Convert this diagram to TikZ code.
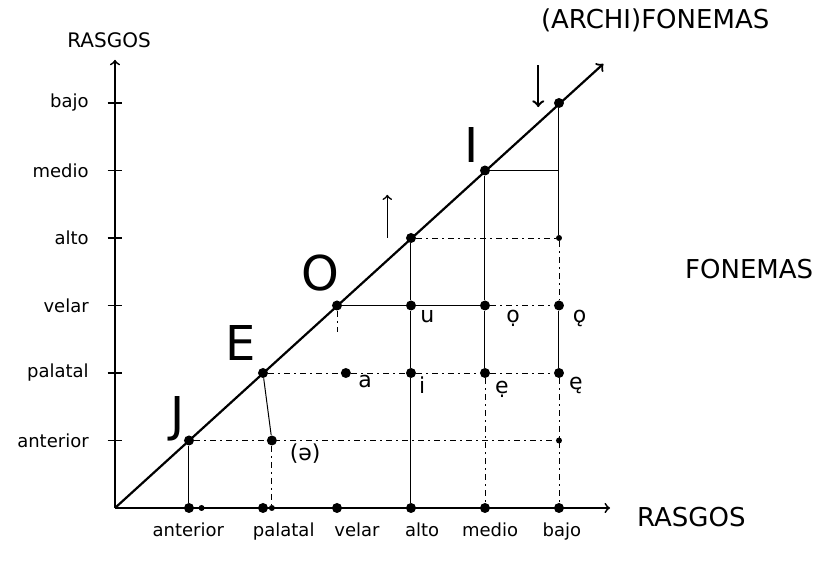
\documentclass[tikz,border=0pt]{standalone}
\usepackage{fontspec}
\setmainfont{DejaVu Sans}
\begin{document}
\begin{tikzpicture}[x=37pt,y=33.75pt,
    every node/.style={font=\fontsize{9}{11}\selectfont},
    pt/.style={circle,fill,inner sep=0pt,minimum size=5pt},
    smallpt/.style={circle,fill,inner sep=0pt,minimum size=3pt},
    guide/.style={line width=0.5pt},
    dguide/.style={line width=0.4pt,dash pattern=on 3pt off 2pt on 1pt off 2pt},
    big/.style={font=\fontsize{24}{26}\selectfont},
    fon/.style={font=\fontsize{11}{13}\selectfont},
    caps/.style={font=\fontsize{13}{15}\selectfont}]
  \useasboundingbox (-1.554,-0.830) rectangle (9.649,7.526);
  % ejes
  \coordinate (o) at (0,0);
  \coordinate (ytop) at (0,6.64);
  \coordinate (xend) at (6.69,0);
  \coordinate (dtop) at (6.6,6.58);
  \draw[line width=0.9pt,->] (o) -- (ytop);
  \draw[line width=0.9pt,->] (o) -- (xend);
  \draw[line width=1.1pt,->] (o) -- (dtop);
  \foreach \k/\lab/\xl in {1/anterior/0.99,2/palatal/2.28,3/velar/3.27,4/alto/4.15,5/medio/5.07,6/bajo/6.04}{
    \draw[line width=0.8pt] (-0.1,\k) -- (0.1,\k);
    \node[anchor=east] (yl\k) at (-0.26,\k) {\lab};
    \node[pt] (x\k) at (\k,0) {};
    \node[below] (xl\k) at (\xl,-0.12) {\lab};
    \node[pt] (d\k) at (\k,\k) {};
  }
  \node[smallpt] (xa) at (1.17,0) {};
  \node[smallpt] (xb) at (2.12,0) {};
  % puntos de los fonemas
  \node[pt] (pu) at (4,3) {};
  \node[pt] (po) at (5,3) {};
  \node[pt] (pO) at (6,3) {};
  \node[pt] (pa) at (3.12,2) {};
  \node[pt] (pi) at (4,2) {};
  \node[pt] (pe) at (5,2) {};
  \node[pt] (pE) at (6,2) {};
  \node[pt] (pschwa) at (2.12,1) {};
  \node[smallpt] (r1) at (6,1) {};
  \node[smallpt] (r4) at (6,4) {};
  \coordinate (r5) at (6,5);
  \coordinate (c3) at (3,2.6);
  % lineas
  \draw[guide] (d1) -- (x1);
  \draw[dguide] (d1) -- (r1);
  \draw[guide] (d2) -- (pschwa);
  \draw[dguide] (pschwa) -- (xb);
  \draw[dguide] (d2) -- (pa) -- (pi) -- (pe) -- (pE);
  \draw[guide] (d3) -- (pu) -- (po);
  \draw[dguide] (po) -- (pO);
  \draw[dguide] (d3) -- (c3);
  \draw[dguide] (d4) -- (r4);
  \draw[guide] (d4) -- (pu) -- (pi) -- (x4);
  \draw[guide] (d5) -- (r5);
  \draw[guide] (d5) -- (po) -- (pe);
  \draw[dguide] (pe) -- (x5);
  \draw[guide] (d6) -- (r4);
  \draw[dguide] (r4) -- (pO);
  \draw[guide] (pO) -- (pE);
  \draw[dguide] (pE) -- (x6);
  % archifonemas
  \node[big] (lJ) at (0.84,1.32) {J};
  \node[big] (lE) at (1.70,2.44) {E};
  \node[big] (lO) at (2.77,3.48) {O};
  \node[big] (lI) at (4.82,5.38) {I};
  \coordinate (upA) at (3.68,4.0);
  \coordinate (upB) at (3.68,4.64);
  \coordinate (dnA) at (5.72,6.56);
  \coordinate (dnB) at (5.72,5.94);
  \draw[line width=0.8pt,->] (upA) -- (upB);
  \draw[line width=1.2pt,->] (dnA) -- (dnB);
  % fonemas
  \node[fon] (tu) at (4.22,2.84) {u};
  \node[fon] (to) at (5.38,2.81) {ọ};
  \node[fon] (tO) at (6.28,2.81) {ǫ};
  \node[fon] (ti) at (4.15,1.82) {i};
  \node[fon] (te) at (5.23,1.76) {ẹ};
  \node[fon] (tE) at (6.23,1.81) {ę};
  \node[fon] (ta) at (3.38,1.87) {a};
  \node[fon] (tschwa) at (2.57,0.81) {(ə)};
  % titulos
  \node (trasy) at (-0.08,6.93) {\fontsize{10}{12}\selectfont RASGOS};
  \node[caps] (tarchi) at (7.30,7.23) {(ARCHI)FONEMAS};
  \node[caps] (tfon) at (8.57,3.54) {FONEMAS};
  \node[caps,anchor=west] (trasx) at (6.96,-0.13) {RASGOS};
\end{tikzpicture}
\end{document}
